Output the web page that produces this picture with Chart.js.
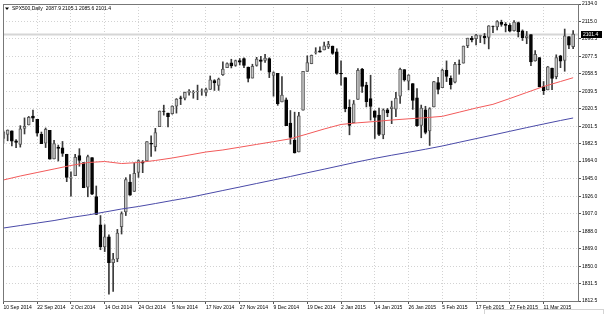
<!DOCTYPE html>
<html>
<head>
<meta charset="utf-8">
<script src="https://cdn.jsdelivr.net/npm/chart.js@4.4.1/dist/chart.umd.min.js"></script>
<style>
  html, body { margin: 0; padding: 0; background: #fff; }
</style>
</head>
<body>
<canvas id="spxChart" width="606" height="314"></canvas>
<script>
// bar index of every date label on the time axis
var tickIdx = [0, 8, 16, 24, 32, 40, 48, 56, 64, 72, 80, 88, 96, 104, 112, 120, 128];
var tickLabels = [
  "10 Sep 2014", "22 Sep 2014", "2 Oct 2014", "14 Oct 2014", "24 Oct 2014",
  "5 Nov 2014", "17 Nov 2014", "27 Nov 2014", "9 Dec 2014", "19 Dec 2014",
  "2 Jan 2015", "14 Jan 2015", "26 Jan 2015", "5 Feb 2015", "17 Feb 2015",
  "27 Feb 2015", "11 Mar 2015",
];
var priceTicks = [2134.0, 2115.0, 2096.5, 2077.5, 2058.5, 2039.5, 2020.5, 2001.5, 1982.5,
  1964.0, 1945.0, 1926.0, 1907.0, 1888.0, 1869.0, 1850.0, 1831.5, 1812.5];

// daily OHLC, one value per bar
var open = [
  1988.4, 1992.9, 1996.7, 1986.0, 1981.9, 1999.3, 2003.1, 2012.7, 2009.1, 1992.8,
  1983.3, 1997.3, 1966.2, 1979.0, 1978.2, 1971.4, 1945.8, 1948.1, 1970.0, 1962.4,
  1935.6, 1967.7, 1925.6, 1895.0, 1871.0, 1882.0, 1854.0, 1858.0, 1893.0, 1909.0,
  1941.3, 1931.0, 1951.6, 1963.0, 1964.1, 1983.3, 1979.5, 2001.2, 2018.2, 2015.8,
  2015.3, 2023.3, 2032.4, 2032.0, 2038.2, 2037.8, 2039.2, 2039.7, 2038.3, 2041.5,
  2051.2, 2045.9, 2057.5, 2065.1, 2070.2, 2067.4, 2072.8, 2074.8, 2065.8, 2053.8,
  2067.5, 2073.6, 2072.8, 2074.8, 2056.6, 2058.9, 2027.9, 2030.4, 2005.0, 1986.7,
  1973.8, 2019.0, 2061.0, 2069.3, 2081.5, 2083.3, 2084.3, 2087.6, 2088.5, 2082.1,
  2058.9, 2054.4, 2022.2, 2005.6, 2030.6, 2063.5, 2046.1, 2031.6, 2018.4, 2013.8,
  1992.3, 2019.4, 2020.8, 2020.2, 2034.3, 2063.0, 2050.4, 2047.9, 2032.3, 2002.5,
  2019.4, 1996.7, 2022.7, 2048.9, 2043.5, 2062.3, 2053.5, 2049.4, 2068.6, 2070.0,
  2088.8, 2097.0, 2096.5, 2099.2, 2099.3, 2097.7, 2109.8, 2109.1, 2114.5, 2112.0,
  2110.9, 2105.2, 2114.0, 2105.0, 2097.5, 2100.9, 2072.3, 2076.1, 2044.7, 2041.1,
  2064.6, 2055.4, 2078.0, 2072.8, 2098.7, 2087.9,
];
var high = [
  1996.7, 1997.7, 1996.7, 1987.2, 2002.3, 2010.7, 2012.3, 2019.3, 2009.1, 1995.4,
  1999.8, 1997.3, 1986.4, 1981.3, 1985.2, 1971.4, 1952.3, 1971.2, 1977.4, 1962.4,
  1970.4, 1967.7, 1937.0, 1905.0, 1895.0, 1884.0, 1864.0, 1890.0, 1909.0, 1946.0,
  1949.3, 1962.0, 1965.3, 1964.6, 1985.1, 1991.4, 1999.4, 2018.2, 2024.5, 2016.0,
  2023.8, 2031.6, 2034.3, 2038.7, 2041.3, 2040.3, 2046.2, 2042.2, 2043.1, 2056.1,
  2052.1, 2053.8, 2071.5, 2070.2, 2074.2, 2073.3, 2075.0, 2075.8, 2065.8, 2068.8,
  2076.3, 2077.3, 2079.5, 2075.8, 2060.6, 2058.9, 2055.5, 2032.3, 2018.7, 2016.9,
  2016.8, 2061.2, 2077.9, 2078.8, 2086.7, 2087.6, 2092.7, 2093.6, 2088.5, 2085.6,
  2072.4, 2054.4, 2030.3, 2029.6, 2064.1, 2064.4, 2049.3, 2056.9, 2018.4, 2021.4,
  2020.5, 2021.0, 2028.9, 2038.3, 2064.6, 2063.0, 2057.6, 2047.9, 2042.5, 2024.6,
  2023.3, 2021.7, 2050.3, 2054.7, 2063.6, 2072.4, 2056.2, 2070.9, 2073.5, 2088.5,
  2097.0, 2099.0, 2101.3, 2100.2, 2102.1, 2110.6, 2110.1, 2116.0, 2116.5, 2113.9,
  2112.7, 2116.0, 2114.5, 2106.0, 2104.3, 2100.9, 2083.5, 2076.1, 2050.1, 2066.4,
  2064.6, 2079.0, 2078.5, 2106.9, 2098.7, 2105.1,
];
var low = [
  1983.0, 1985.9, 1980.3, 1978.5, 1979.1, 1993.3, 2003.1, 2006.6, 1991.0, 1982.8,
  1978.6, 1966.0, 1966.2, 1964.0, 1969.0, 1941.7, 1926.0, 1948.1, 1958.4, 1935.1,
  1925.3, 1927.6, 1906.1, 1868.0, 1866.0, 1820.0, 1823.0, 1855.0, 1885.0, 1905.0,
  1926.8, 1931.0, 1946.3, 1951.4, 1964.1, 1969.0, 1974.8, 2001.2, 2013.7, 2001.0,
  2014.7, 2015.9, 2025.1, 2030.2, 2035.3, 2032.0, 2030.4, 2035.2, 2034.5, 2041.5,
  2040.4, 2040.5, 2056.8, 2065.1, 2064.8, 2066.6, 2068.0, 2065.1, 2049.6, 2053.8,
  2066.7, 2062.3, 2070.8, 2054.3, 2034.2, 2024.3, 2027.9, 2002.3, 1982.3, 1972.6,
  1973.8, 2019.0, 2061.0, 2069.3, 2079.8, 2081.9, 2084.3, 2085.8, 2079.5, 2057.9,
  2046.0, 2017.3, 1992.4, 2005.6, 2030.6, 2038.3, 2022.6, 2008.3, 1988.4, 1991.5,
  1988.1, 2012.0, 2004.5, 2012.0, 2026.4, 2050.5, 2041.0, 2019.9, 2001.5, 1989.2,
  1993.4, 1980.9, 2022.7, 2036.7, 2043.5, 2050.0, 2041.9, 2048.6, 2058.0, 2070.0,
  2086.7, 2093.0, 2089.8, 2092.2, 2090.8, 2085.4, 2103.0, 2105.9, 2109.9, 2103.8,
  2103.8, 2104.5, 2098.3, 2094.5, 2091.0, 2067.3, 2072.2, 2044.2, 2036.0, 2041.1,
  2041.2, 2053.0, 2065.1, 2061.2, 2085.6, 2085.6,
];
var close = [
  1995.7, 1997.5, 1985.5, 1984.1, 1999.0, 2001.6, 2011.4, 2010.4, 1994.3, 1982.8,
  1998.3, 1966.0, 1982.9, 1977.8, 1972.3, 1946.2, 1946.2, 1967.9, 1964.8, 1935.1,
  1968.9, 1928.2, 1906.1, 1871.0, 1882.0, 1854.0, 1858.0, 1886.0, 1907.0, 1944.0,
  1927.1, 1950.8, 1964.6, 1961.6, 1985.1, 1982.3, 1994.7, 2018.1, 2017.8, 2012.1,
  2023.6, 2031.2, 2031.9, 2038.3, 2039.7, 2038.3, 2039.3, 2039.8, 2041.3, 2051.8,
  2048.7, 2052.8, 2063.5, 2069.4, 2067.0, 2072.8, 2071.0, 2067.6, 2053.4, 2066.6,
  2074.3, 2071.9, 2075.4, 2060.3, 2059.8, 2026.1, 2035.3, 2002.3, 1989.6, 1972.7,
  2012.9, 2061.2, 2070.7, 2078.5, 2082.2, 2081.9, 2088.8, 2090.6, 2080.4, 2058.9,
  2058.2, 2020.6, 2002.6, 2025.9, 2062.1, 2044.8, 2028.3, 2023.0, 2011.3, 1992.7,
  2019.4, 2016.0, 2022.6, 2032.1, 2063.2, 2051.8, 2057.1, 2029.6, 2002.2, 2021.3,
  1995.0, 2020.9, 2050.0, 2041.5, 2062.5, 2055.5, 2046.7, 2068.6, 2068.5, 2088.5,
  2097.0, 2095.0, 2100.3, 2099.7, 2097.5, 2110.3, 2109.7, 2115.0, 2112.0, 2110.7,
  2104.5, 2114.5, 2104.0, 2097.5, 2099.5, 2071.3, 2079.4, 2044.2, 2040.2, 2066.0,
  2053.4, 2076.0, 2072.0, 2099.5, 2089.3, 2101.4,
];

// moving averages, every 4th bar
var maIdx = [0, 4, 8, 12, 16, 20, 24, 28, 32, 36, 40, 44, 48, 52, 56, 60, 64, 68,
  72, 76, 80, 84, 88, 92, 96, 100, 104, 108, 112, 116, 120, 124, 128, 132, 135];
var maRed = [1943.5, 1947.8, 1951.6, 1955.4, 1959.2, 1962.4, 1963.5, 1961.3, 1962.4,
  1964.6, 1967.3, 1970.5, 1973.8, 1976.0, 1979.0, 1982.0, 1985.0, 1988.1, 1993.3,
  1998.7, 2003.6, 2005.4, 2006.8, 2008.4, 2009.7, 2010.9, 2012.4, 2016.9, 2021.4,
  2025.4, 2031.7, 2038.2, 2044.7, 2050.1, 2054.2];
var maBlue = [1891.5, 1894.2, 1896.9, 1899.6, 1902.9, 1905.6, 1908.8, 1912.1, 1914.8,
  1918.0, 1921.3, 1924.5, 1928.3, 1932.1, 1935.9, 1939.7, 1943.5, 1947.3, 1951.3,
  1955.2, 1959.2, 1963.2, 1966.9, 1970.3, 1973.5, 1976.8, 1980.3, 1984.3, 1988.3,
  1992.2, 1996.2, 2000.2, 2004.1, 2007.9, 2010.6];

var axisFont = { family: "Liberation Sans", size: 5 };
var last = close.length - 1;

var wicks = low.map(function (l, i) { return { x: i, y: [l, high[i]] }; });
var bodies = open.map(function (o, i) {
  var c = close[i];
  if (Math.abs(c - o) < 0.4) c = o + 0.4;
  return { x: i, y: [o, c] };
});
var bull = open.map(function (o, i) { return close[i] >= o; });

var mt4Overlay = {
  id: "mt4Overlay",
  beforeDatasetsDraw: function (chart) {
    var ctx = chart.ctx, a = chart.chartArea;
    var y = Math.round(chart.scales.y.getPixelForValue(close[last])) + 0.5;
    ctx.save();
    ctx.strokeStyle = "#d6d6d6";
    ctx.lineWidth = 2;
    ctx.beginPath();
    ctx.moveTo(a.left, y);
    ctx.lineTo(a.right, y);
    ctx.stroke();
    ctx.restore();
  },
  afterDraw: function (chart) {
    var ctx = chart.ctx, a = chart.chartArea;
    ctx.save();
    ctx.strokeStyle = "#777";
    ctx.lineWidth = 1;
    ctx.strokeRect(a.left + 0.5, a.top + 0.5, a.right - a.left, a.bottom - a.top);

    // faint panel edge in the lower right corner
    ctx.strokeStyle = "#d4d4d4";
    ctx.strokeRect(484.5, 309.5, 119, 8);

    // current price tag on the price axis
    var y = Math.round(chart.scales.y.getPixelForValue(close[last]));
    ctx.fillStyle = "#000";
    ctx.fillRect(a.right + 3, y - 3, 21, 7);
    ctx.fillStyle = "#fff";
    ctx.font = "5px 'Liberation Sans'";
    ctx.textBaseline = "middle";
    ctx.fillText(close[last].toFixed(1), a.right + 5, y + 0.5);

    // symbol header
    ctx.fillStyle = "#000";
    ctx.beginPath();
    ctx.moveTo(5, 7.5);
    ctx.lineTo(9, 7.5);
    ctx.lineTo(7, 10);
    ctx.closePath();
    ctx.fill();
    var head = "SPX500,Daily  " + [open[last], high[last], low[last], close[last]]
      .map(function (v) { return v.toFixed(1); }).join(" ");
    ctx.fillText(head, 12, 9);
    ctx.restore();
  },
};

new Chart(document.getElementById("spxChart"), {
  type: "bar",
  data: {
    datasets: [
      {
        type: "line",
        data: maRed.map(function (v, i) { return { x: maIdx[i], y: v }; }),
        borderColor: "#f25a5a",
        borderWidth: 1,
        pointRadius: 0,
        tension: 0,
        order: 0,
      },
      {
        type: "line",
        data: maBlue.map(function (v, i) { return { x: maIdx[i], y: v }; }),
        borderColor: "#4a4aa8",
        borderWidth: 1,
        pointRadius: 0,
        tension: 0,
        order: 0,
      },
      {
        data: bodies,
        grouped: false,
        barThickness: 3,
        backgroundColor: bull.map(function (b) { return b ? "#c4c4c4" : "#050505"; }),
        borderColor: bull.map(function (b) { return b ? "#5a5a5a" : "#050505"; }),
        borderWidth: 1,
        borderSkipped: false,
        order: 1,
      },
      {
        data: wicks,
        grouped: false,
        barThickness: 1,
        backgroundColor: "#3a3a3a",
        order: 2,
      },
    ],
  },
  options: {
    responsive: false,
    animation: false,
    devicePixelRatio: 1,
    layout: { padding: { left: 3, top: 4, right: 0, bottom: 0 } },
    plugins: {
      legend: { display: false },
      tooltip: { enabled: false },
    },
    scales: {
      x: {
        type: "linear",
        offset: false,
        min: -0.1,
        max: 136.15,
        afterBuildTicks: function (s) {
          s.ticks = tickIdx.map(function (v) { return { value: v }; });
        },
        afterFit: function (s) { s.height = 13; },
        ticks: {
          autoSkip: false,
          maxRotation: 0,
          align: "start",
          padding: 1,
          color: "#000",
          font: axisFont,
          callback: function (v) { return tickLabels[tickIdx.indexOf(v)]; },
        },
        grid: { offset: false, color: "#d2d2d2", tickLength: 3, tickColor: "#555", tickBorderDash: [] },
        border: { color: "#555", dash: [1, 2] },
      },
      y: {
        position: "right",
        min: 1812.5,
        max: 2134,
        afterBuildTicks: function (s) {
          s.ticks = priceTicks.map(function (v) { return { value: v }; });
        },
        afterFit: function (s) { s.width = 28; },
        ticks: {
          autoSkip: false,
          padding: 1,
          color: "#000",
          font: axisFont,
          callback: function (v) { return v.toFixed(1); },
        },
        grid: { color: "#d2d2d2", tickLength: 3, tickColor: "#555", tickBorderDash: [] },
        border: { color: "#555", dash: [1, 2] },
      },
    },
  },
  plugins: [mt4Overlay],
});
</script>
</body>
</html>
